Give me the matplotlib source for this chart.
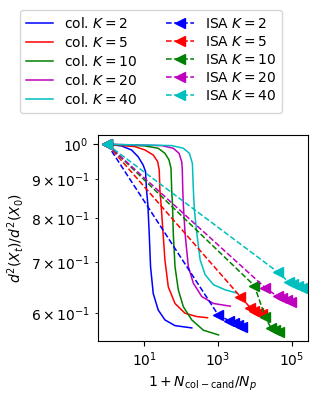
import numpy as np
import matplotlib
matplotlib.use("Agg")
import matplotlib.pyplot as plt

Ks = [2, 5, 10, 20, 40]
colors = ["b", "r", "g", "m", "c"]

# collision-candidate curves (x = 1 + N_col-cand/N_p, y = d^2(X_t)/d^2(X_0))
col_x = {
    2: [1, 2.43, 4.54, 6.87, 9.4, 10.9, 11.6, 12.6, 13.7, 14.9, 17.6, 24.0, 36.6, 68.4, 195],
    5: [1, 5.58, 10.45, 17.6, 23.2, 25.6, 26.7, 28.8, 31.6, 36.5, 45, 68.4, 128, 267, 518],
    10: [1, 10.4, 24, 36.6, 47, 53.3, 55.7, 58.5, 61.5, 68.4, 84, 115, 195, 403, 1033],
    20: [1, 29.7, 61.5, 87.9, 104, 108, 111, 115, 128, 157, 215, 364, 755, 2150],
    40: [1, 55.7, 115, 168, 202, 207, 215, 229, 267, 328, 449, 755, 1570, 3126],
}
col_y = {
    2: [1, 0.995, 0.983, 0.963, 0.939, 0.921, 0.871, 0.833, 0.765, 0.691, 0.637, 0.606, 0.588, 0.578, 0.574],
    5: [1, 0.993, 0.983, 0.968, 0.949, 0.925, 0.871, 0.833, 0.78, 0.705, 0.65, 0.618, 0.600, 0.594, 0.592],
    10: [1, 0.995, 0.988, 0.973, 0.954, 0.930, 0.871, 0.833, 0.764, 0.691, 0.644, 0.612, 0.588, 0.570, 0.562],
    20: [1, 0.996, 0.988, 0.973, 0.949, 0.925, 0.871, 0.833, 0.764, 0.691, 0.657, 0.631, 0.618, 0.613],
    40: [1, 0.996, 0.988, 0.973, 0.944, 0.916, 0.871, 0.82, 0.764, 0.705, 0.674, 0.654, 0.644, 0.638],
}

# ISA iterations
isa_x = {
    2: [1, 1010, 2020, 2675, 3545, 4550],
    5: [1, 4020, 7520, 9660, 12400, 15960],
    10: [1, 9660, 19230, 27150, 34900, 44900],
    20: [1, 19230, 40800, 54100, 71700, 95100],
    40: [1, 40800, 81300, 108000, 143000, 189600],
}
isa_y = {
    2: [1, 0.597, 0.5864, 0.5829, 0.5794, 0.5758],
    5: [1, 0.631, 0.610, 0.605, 0.6013, 0.598],
    10: [1, 0.652, 0.5925, 0.574, 0.5706, 0.567],
    20: [1, 0.6478, 0.6314, 0.6275, 0.6247, 0.6209],
    40: [1, 0.680, 0.6597, 0.6557, 0.6518, 0.6476],
}

fig = plt.figure(figsize=(3.18, 4.01), dpi=100)
ax = fig.add_axes([0.307, 0.150, 0.661, 0.513])

handles = []
for K, c in zip(Ks, colors):
    h, = ax.plot(col_x[K], col_y[K], "-", color=c, lw=1.1, label=f"col. $K={K}$")
    handles.append(h)
for K, c in zip(Ks, colors):
    h, = ax.plot(isa_x[K], isa_y[K], "--<", color=c, lw=1.1, ms=7, label=f"ISA $K={K}$")
    handles.append(h)

ax.set_xscale("log")
ax.set_yscale("log")
ax.set_xlim(0.55, 2.7e5)
ax.set_ylim(0.552, 1.028)
ax.set_xticks([10, 1e3, 1e5])
ax.xaxis.set_minor_locator(matplotlib.ticker.NullLocator())
ax.set_xlabel(r"$1 + N_{\mathrm{col-cand}}/N_p$")
ax.set_ylabel(r"$d^2(X_t)/d^2(X_0)$")

fig.legend(handles=handles, loc="upper left", bbox_to_anchor=(0.041, 0.9925), ncol=2,
           fontsize=10, labelspacing=0.3)

fig.savefig("out.png", dpi=100)
